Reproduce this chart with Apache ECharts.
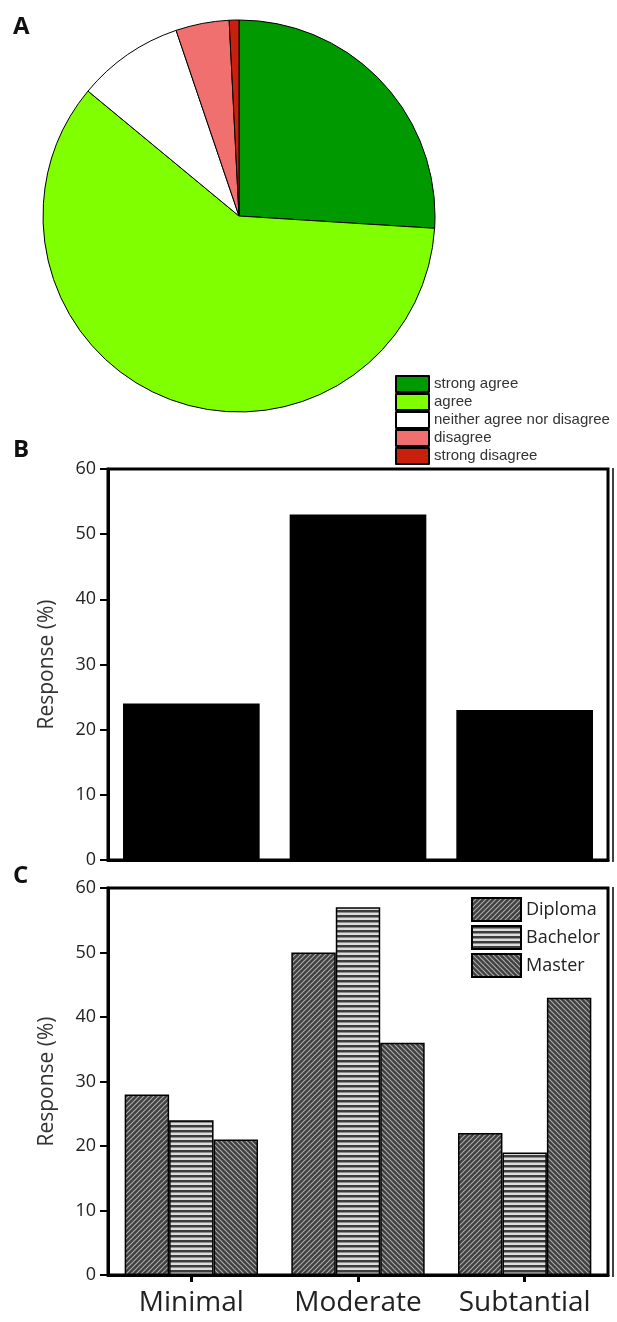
<!DOCTYPE html>
<html>
<head>
<meta charset="utf-8">
<script src="https://cdn.jsdelivr.net/npm/echarts@6/dist/echarts.min.js"></script>
<style>
html,body{margin:0;padding:0;background:#fff;}
#chart{width:617px;height:1322px;}
</style>
</head>
<body>
<div id="chart"></div>
<script>
// ---- data ----
const pieCategories = ['strong agree', 'agree', 'neither agree nor disagree', 'disagree', 'strong disagree'];
const pieValues = [26, 60, 8.8, 4.4, 0.8];
const levelCategories = ['Minimal', 'Moderate', 'Subtantial'];
const overallValues = [24, 53, 23];
const educationNames = ['Diploma', 'Bachelor', 'Master'];
const diplomaValues = [28, 50, 22];
const bachelorValues = [24, 57, 19];
const masterValues = [21, 36, 43];
const yMin = 0, yMax = 60, yInterval = 10;

// ---- styles ----
const pieColors = ['#009900', '#80ff00', '#ffffff', '#f07070', '#c8200c'];

function makePattern(kind) {
  const c = document.createElement('canvas');
  const s = 5;
  c.width = s; c.height = s;
  const g = c.getContext('2d');
  if (kind === 'h') {
    g.fillStyle = '#dcdcdc'; g.fillRect(0, 0, s, s);
    g.fillStyle = '#3c3c3c'; g.fillRect(0, 0, s, 2.5);
  } else {
    g.fillStyle = '#404040'; g.fillRect(0, 0, s, s);
    g.strokeStyle = '#aaaaaa'; g.lineWidth = 1.2;
    g.beginPath();
    if (kind === 'fwd') {
      g.moveTo(-1, s + 1); g.lineTo(s + 1, -1);
      g.moveTo(-1, 1); g.lineTo(1, -1);
      g.moveTo(s - 1, s + 1); g.lineTo(s + 1, s - 1);
    } else {
      g.moveTo(-1, -1); g.lineTo(s + 1, s + 1);
      g.moveTo(s - 1, -1); g.lineTo(s + 1, 1);
      g.moveTo(-1, s - 1); g.lineTo(1, s + 1);
    }
    g.stroke();
  }
  return { image: c, repeat: 'repeat' };
}
const patterns = [makePattern('fwd'), makePattern('h'), makePattern('back')];

const font = '"Open Sans", sans-serif';
const axisTextColor = '#222';

const chart = echarts.init(document.getElementById('chart'), null, { renderer: 'canvas' });

function yAxisCfg(gridIndex) {
  return {
    type: 'value', gridIndex: gridIndex, min: yMin, max: yMax, interval: yInterval,
    name: 'Response (%)', nameLocation: 'middle', nameGap: 50,
    nameTextStyle: { fontFamily: font, fontSize: 21, color: '#333' },
    axisLine: { show: true, lineStyle: { color: '#000', width: 3 } },
    axisTick: { show: true, length: 8, lineStyle: { color: '#000', width: 2 } },
    axisLabel: { fontFamily: font, fontSize: 18, color: axisTextColor, margin: 12 },
    splitLine: { show: false }
  };
}

const option = {
  backgroundColor: '#fff',
  animation: false,
  legend: [
    {
      data: pieCategories, orient: 'vertical', left: 390, top: 370, padding: 5,
      itemWidth: 33, itemHeight: 16, itemGap: 0, icon: 'rect',
      textStyle: { fontFamily: '"Liberation Sans", Arial, sans-serif', fontSize: 15, color: '#333', lineHeight: 14 },
      selectedMode: false
    },
    {
      data: educationNames, orient: 'vertical', left: 466, top: 892, padding: 5,
      itemWidth: 49, itemHeight: 23, itemGap: 3, icon: 'rect',
      textStyle: { fontFamily: font, fontSize: 18, color: '#222' },
      selectedMode: false
    }
  ],
  grid: [
    { left: 108, right: 9, top: 469, height: 391, show: true, borderColor: '#000', borderWidth: 3, backgroundColor: 'transparent' },
    { left: 108, right: 9, top: 888, height: 387, show: true, borderColor: '#000', borderWidth: 3, backgroundColor: 'transparent' }
  ],
  xAxis: [
    {
      type: 'category', gridIndex: 0, data: levelCategories,
      axisLine: { lineStyle: { color: '#000', width: 3 } },
      axisTick: { show: false }, axisLabel: { show: false }
    },
    {
      type: 'category', gridIndex: 1, data: levelCategories,
      axisLine: { lineStyle: { color: '#000', width: 3 } },
      axisTick: { show: true, alignWithLabel: true, length: 7, lineStyle: { color: '#000', width: 3 } },
      axisLabel: { fontFamily: font, fontSize: 28, color: '#222', margin: 14, interval: 0, hideOverlap: false }
    }
  ],
  yAxis: [yAxisCfg(0), yAxisCfg(1)],
  graphic: [
    { type: 'text', left: 13, top: 15, style: { text: 'A', font: 'bold 24px "Open Sans", sans-serif', fill: '#111' } },
    { type: 'text', left: 13, top: 438, style: { text: 'B', font: 'bold 24px "Open Sans", sans-serif', fill: '#111' } },
    { type: 'text', left: 13, top: 864, style: { text: 'C', font: 'bold 24px "Open Sans", sans-serif', fill: '#111' } },
    { type: 'line', shape: { x1: 613, y1: 468, x2: 613, y2: 862 }, style: { stroke: '#000', lineWidth: 1.5 } },
    { type: 'line', shape: { x1: 613, y1: 887, x2: 613, y2: 1277 }, style: { stroke: '#000', lineWidth: 1.5 } }
  ],
  series: [
    {
      type: 'pie', center: [239, 216], radius: 196, startAngle: 90, clockwise: true,
      label: { show: false }, labelLine: { show: false }, silent: true,
      itemStyle: { borderColor: '#000', borderWidth: 1 },
      data: pieCategories.map((n, i) => ({ name: n, value: pieValues[i], itemStyle: { color: pieColors[i] } }))
    },
    {
      type: 'bar', xAxisIndex: 0, yAxisIndex: 0, data: overallValues,
      barCategoryGap: '18%', itemStyle: { color: '#000' }, silent: true
    },
    {
      type: 'bar', name: educationNames[0], xAxisIndex: 1, yAxisIndex: 1, data: diplomaValues,
      barGap: '0%', barCategoryGap: '20%',
      itemStyle: { color: patterns[0], borderColor: '#000', borderWidth: 1.5 }
    },
    {
      type: 'bar', name: educationNames[1], xAxisIndex: 1, yAxisIndex: 1, data: bachelorValues,
      barGap: '0%', barCategoryGap: '20%',
      itemStyle: { color: patterns[1], borderColor: '#000', borderWidth: 1.5 }
    },
    {
      type: 'bar', name: educationNames[2], xAxisIndex: 1, yAxisIndex: 1, data: masterValues,
      barGap: '0%', barCategoryGap: '20%',
      itemStyle: { color: patterns[2], borderColor: '#000', borderWidth: 1.5 }
    }
  ]
};
chart.setOption(option);
</script>
</body>
</html>
